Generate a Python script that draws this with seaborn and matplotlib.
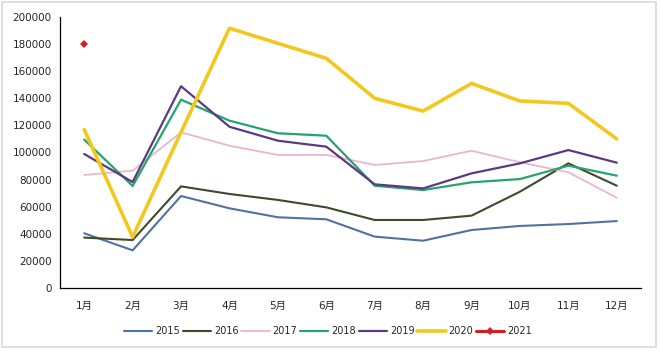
import matplotlib
matplotlib.use("Agg")
import matplotlib.pyplot as plt
import seaborn as sns
import pandas as pd
import numpy as np
from matplotlib.patches import Rectangle

months = ["1月", "2月", "3月", "4月", "5月", "6月", "7月", "8月", "9月", "10月", "11月", "12月"]
y2015 = [40400, 27800, 67900, 58800, 52200, 50700, 37900, 34900, 42800, 45800, 47200, 49400]
y2016 = [37200, 35400, 75000, 69400, 65000, 59500, 50200, 50200, 53400, 71100, 92000, 75500]
y2017 = [83400, 86600, 114900, 105000, 98200, 98200, 90800, 93700, 101300, 92800, 85400, 66600]
y2018 = [109500, 75300, 139000, 123500, 114200, 112400, 75500, 72300, 78000, 80400, 90300, 82900]
y2019 = [98900, 78200, 148900, 119000, 108700, 104300, 76500, 73500, 84600, 92000, 101800, 92500]
y2020 = [116900, 37600, 115000, 191700, 180600, 169500, 140000, 130600, 151000, 138000, 136300, 110000]
y2021 = [180000]

series = {"2015": y2015, "2016": y2016, "2017": y2017, "2018": y2018,
          "2019": y2019, "2020": y2020, "2021": y2021}
colors = {"2015": "#4F72A3", "2016": "#3E4A2C", "2017": "#EAB5D2", "2018": "#25A46C",
          "2019": "#5C3A80", "2020": "#F2C81F", "2021": "#D71E1E"}
widths = {"2015": 1.5, "2016": 1.5, "2017": 1.3, "2018": 1.6, "2019": 1.6, "2020": 2.6, "2021": 2.2}

rows = []
for name, vals in series.items():
    for i, v in enumerate(vals):
        rows.append({"year": name, "idx": i, "value": v})
df = pd.DataFrame(rows)

sns.set_style("white")
plt.rcParams["font.family"] = ["DejaVu Sans", "Noto Sans CJK SC"]

fig = plt.figure(figsize=(6.6, 3.51), dpi=100)
ax = fig.add_axes([60/660, 1-288/351, 581/660, 271/351])

for name in series:
    sub = df[df["year"] == name]
    kw = {}
    if name == "2021":
        kw = dict(marker="D", markersize=4.5, markeredgewidth=0)
    sns.lineplot(data=sub, x="idx", y="value", ax=ax, color=colors[name],
                 linewidth=widths[name], label=name, **kw)

ax.set_xlim(-0.5, len(months) - 0.5)
ax.set_ylim(0, 200000)
ax.set_yticks(np.arange(0, 200001, 20000))
ax.set_yticklabels([f"{int(v)}" for v in np.arange(0, 200001, 20000)], fontsize=7.5)
ax.set_xticks(range(len(months)))
ax.set_xticklabels(months, fontsize=7.5)
ax.set_xticks(np.arange(-0.5, len(months)), minor=True)
ax.tick_params(axis="x", which="major", length=0, pad=9)
ax.tick_params(axis="x", which="minor", length=4, width=0.9, direction="out", color="black")
ax.tick_params(axis="y", length=4, width=0.9, direction="out", color="black", pad=2)
ax.set_xlabel("")
ax.set_ylabel("")
for s in ["top", "right"]:
    ax.spines[s].set_visible(False)
for s in ["left", "bottom"]:
    ax.spines[s].set_color("black")
    ax.spines[s].set_linewidth(0.9)

leg = ax.legend(loc="center", bbox_to_anchor=(0.497, 0.057), bbox_transform=fig.transFigure,
                ncol=7, frameon=False, fontsize=7, handlelength=2.9, handletextpad=0.3,
                columnspacing=0.3, borderaxespad=0)

fig.patches.append(Rectangle((2/660, 1-347/351), 654/660, 345/351, transform=fig.transFigure,
                             fill=False, edgecolor="#D9D9D9", linewidth=1.2))

fig.savefig("out.png", dpi=100)
